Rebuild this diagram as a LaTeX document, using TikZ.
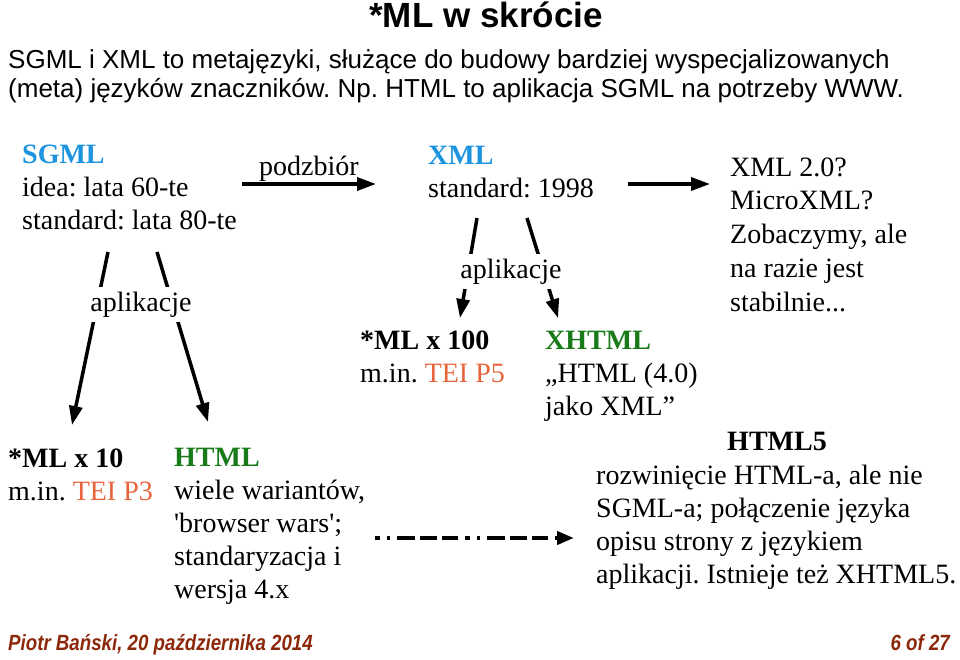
\documentclass[tikz,border=0pt]{standalone}
\usepackage{fontspec}
\setmainfont{Liberation Serif}
\setsansfont{Liberation Sans}
\newfontfamily\plainrm{Liberation Serif}
\newfontfamily\footfont[FakeStretch=0.85]{Liberation Sans}
\usetikzlibrary{arrows.meta}
\definecolor{langblue}{RGB}{28,148,224}
\definecolor{teiorange}{RGB}{232,100,60}
\definecolor{htmlgreen}{RGB}{24,122,24}
\definecolor{footbrown}{RGB}{140,40,10}
\newcommand{\sq}{{\plainrm'}}
\frenchspacing
\tikzset{txt/.style={anchor=base west, align=left, inner sep=0pt, font=\fontsize{28}{33}\selectfont},
  gaplabel/.style={fill=white, anchor=base, inner sep=5pt, font=\fontsize{28}{33}\selectfont},
  arr/.style={line width=3.5pt, -{Triangle[length=19pt, width=13pt]}},
  foot/.style={inner sep=0pt, text=footbrown, font=\footfont\bfseries\itshape\fontsize{22}{24}\selectfont}}

\begin{document}
\begin{tikzpicture}[x=1pt, y=-1pt]
    \useasboundingbox (0,0) rectangle (960,659);
    % base of a node = baseline of its last line
    \node [anchor=base, inner sep=0pt, font=\sffamily\bfseries\fontsize{35}{40}\selectfont] (title) at (486,27) {*ML w skrócie};
    \node [txt, font=\sffamily\fontsize{26}{29}\selectfont] (intro) at (8,97)
      {SGML i XML to metajęzyki, służące do budowy bardziej wyspecjalizowanych\\(meta) języków znaczników. Np. HTML to aplikacja SGML na potrzeby WWW.};
    % languages
    \node [txt] (sgml) at (22,229) {\textbf{\color{langblue}SGML}\\idea: lata 60-te\\standard: lata 80-te};
    \node [txt] (xml) at (428,197) {\textbf{\color{langblue}XML}\\standard: 1998};
    \node [txt, font=\fontsize{28}{33.7}\selectfont] (future) at (730,311) {XML 2.0?\\MicroXML?\\Zobaczymy, ale\\na razie jest\\stabilnie...};
    \node [txt] (mlten) at (8,500) {\textbf{*ML x 10}\\m.in. {\color{teiorange}TEI P3}};
    \node [txt] (html) at (174,598) {\textbf{\color{htmlgreen}HTML}\\wiele wariantów,\\\sq browser wars\sq;\\standaryzacja i\\wersja 4.x};
    \node [txt] (mlhundred) at (360,382) {\textbf{*ML x 100}\\m.in. {\color{teiorange}TEI P5}};
    \node [txt] (xhtml) at (545,415) {\textbf{\color{htmlgreen}XHTML}\\„HTML (4.0)\\jako XML”};
    \node [anchor=base, inner sep=0pt, font=\fontsize{28}{33}\selectfont\bfseries] (html5) at (777,450) {HTML5};
    \node [txt] (html5txt) at (596,583) {rozwinięcie HTML-a, ale nie\\SGML-a; połączenie języka\\opisu strony z językiem\\aplikacji. Istnieje też XHTML5.};
    % connector ends
    \coordinate (sgmlL) at (108,252);
    \coordinate (sgmlR) at (157,252);
    \coordinate (mltenT) at (72,425);
    \coordinate (htmlT) at (208,422);
    \coordinate (xmlL) at (477,218);
    \coordinate (xmlR) at (527,218);
    \coordinate (mlhundredT) at (460,318);
    \coordinate (xhtmlT) at (558,318);
    \coordinate (sgmlE) at (242,184);
    \coordinate (xmlW) at (376,184);
    \coordinate (xmlE) at (628,184);
    \coordinate (futureW) at (710,184);
    \coordinate (htmlE) at (375,538);
    \coordinate (html5W) at (574,538);
    \draw [arr] (sgmlE) -- node [above, inner sep=0pt, yshift=1pt, font=\fontsize{28}{33}\selectfont] (sub) {podzbiór} (xmlW);
    \draw [arr] (xmlE) -- (futureW);
    \draw [arr] (sgmlL) -- (mltenT);
    \draw [arr] (sgmlR) -- (htmlT);
    \draw [arr] (xmlL) -- (mlhundredT);
    \draw [arr] (xmlR) -- (xhtmlT);
    \node [gaplabel] (appl1) at (141,311) {aplikacje};
    \node [gaplabel] (appl2) at (511,278) {aplikacje};
    \draw [line width=4pt, -{Triangle[length=17pt, width=13pt]},
      dash pattern=on 5pt off 7pt on 3pt off 7pt on 18pt off 5pt on 17pt off 5pt on 16pt off 7pt] (htmlE) -- (html5W);
    % footer
    \node [foot, anchor=base west] (author) at (8,650) {Piotr Bański, 20 października 2014};
    \node [foot, anchor=base east] (page) at (950,650) {6 of 27};
\end{tikzpicture}
\end{document}
